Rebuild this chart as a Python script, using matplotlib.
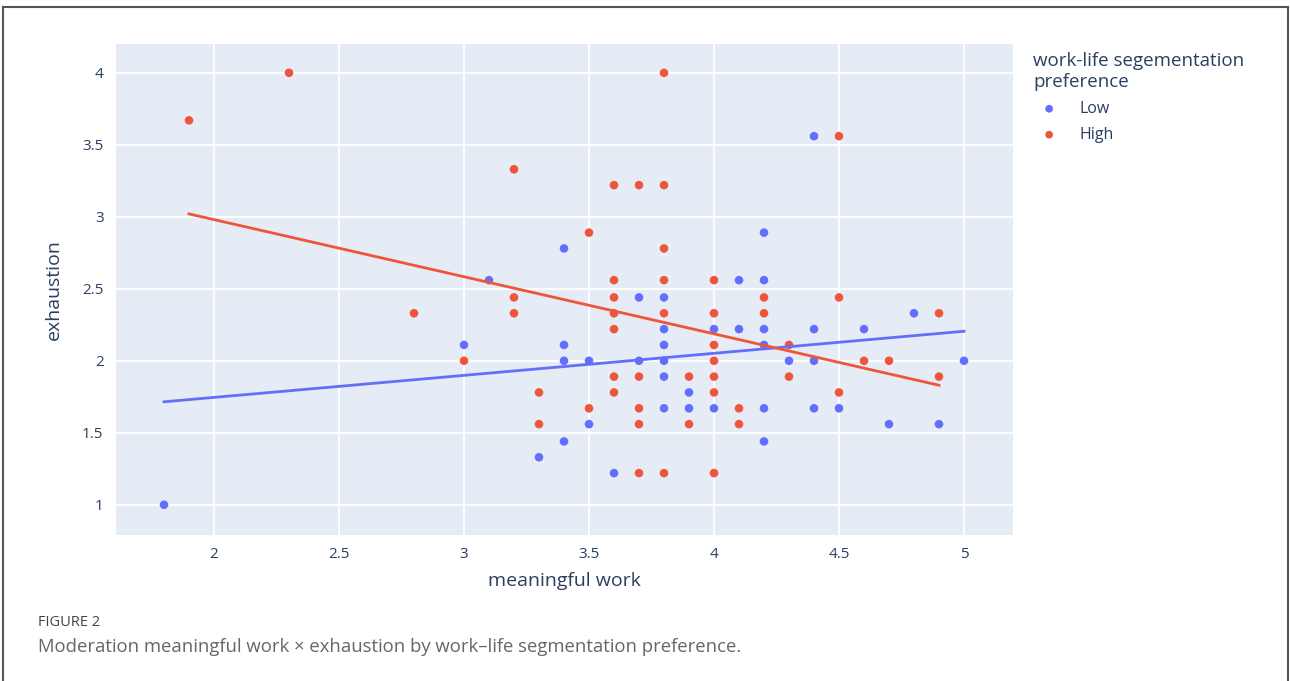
import matplotlib
matplotlib.use("Agg")
import matplotlib.pyplot as plt
from matplotlib.lines import Line2D

# Low segmentation preference (blue)
low_x = [1.8, 3.0, 3.1, 3.3, 3.4, 3.4, 3.4, 3.4, 3.5, 3.5, 3.6,
         3.7, 3.7, 3.8, 3.8, 3.8, 3.8, 3.8, 3.8, 3.9, 3.9,
         4.0, 4.0, 4.1, 4.1, 4.2, 4.2, 4.2, 4.2, 4.2, 4.2,
         4.3, 4.4, 4.4, 4.4, 4.4, 4.5, 4.6, 4.7, 4.8, 4.9, 5.0]
low_y = [1.0, 2.11, 2.56, 1.33, 2.78, 2.11, 2.0, 1.44, 2.0, 1.56, 1.22,
         2.44, 2.0, 2.44, 2.22, 2.11, 2.0, 1.89, 1.67, 1.78, 1.67,
         2.22, 1.67, 2.56, 2.22, 2.89, 2.56, 2.22, 2.11, 1.67, 1.44,
         2.0, 3.56, 2.22, 2.0, 1.67, 1.67, 2.22, 1.56, 2.33, 1.56, 2.0]

# High segmentation preference (red)
high_x = [1.9, 2.3, 2.8, 3.0, 3.2, 3.2, 3.2, 3.3, 3.3, 3.5, 3.5,
          3.6, 3.6, 3.6, 3.6, 3.6, 3.6, 3.6,
          3.7, 3.7, 3.7, 3.7, 3.7,
          3.8, 3.8, 3.8, 3.8, 3.8, 3.8,
          3.9, 3.9,
          4.0, 4.0, 4.0, 4.0, 4.0, 4.0, 4.0,
          4.1, 4.1, 4.2, 4.2, 4.3, 4.3, 4.5, 4.5, 4.5, 4.6, 4.7, 4.9, 4.9]
high_y = [3.67, 4.0, 2.33, 2.0, 3.33, 2.44, 2.33, 1.78, 1.56, 2.89, 1.67,
          3.22, 2.56, 2.44, 2.33, 2.22, 1.89, 1.78,
          3.22, 1.89, 1.67, 1.56, 1.22,
          4.0, 3.22, 2.78, 2.56, 2.33, 1.22,
          1.89, 1.56,
          2.56, 2.33, 2.11, 2.0, 1.89, 1.78, 1.22,
          1.67, 1.56, 2.44, 2.33, 2.11, 1.89, 3.56, 2.44, 1.78, 2.0, 2.0, 2.33, 1.89]

# fitted trend lines (endpoints)
low_fit_x = [1.8, 5.0]
low_fit_y = [1.715, 2.205]
high_fit_x = [1.9, 4.9]
high_fit_y = [3.02, 1.83]

x_ticks = [2, 2.5, 3, 3.5, 4, 4.5, 5]
y_ticks = [1, 1.5, 2, 2.5, 3, 3.5, 4]

BLUE = "#636EFA"
RED = "#EF553B"
INK = "#2a3f5f"
FONT = ["Open Sans", "DejaVu Sans"]

plt.rcParams["font.family"] = FONT

fig = plt.figure(figsize=(12.9, 6.81), dpi=100)
W, H = 1290, 681
ax = fig.add_axes([116 / W, (H - 535) / H, (1013 - 116) / W, (535 - 44) / H])
ax.set_facecolor("#E5ECF6")
for s in ax.spines.values():
    s.set_visible(False)

ax.set_xlim(1.608, 5.196)
ax.set_ylim(0.79, 4.2)
ax.set_xticks(x_ticks)
ax.set_yticks(y_ticks)
ax.set_xticklabels([f"{v:g}" for v in x_ticks])
ax.set_yticklabels([f"{v:g}" for v in y_ticks])
ax.grid(True, color="white", linewidth=1.3)
ax.set_axisbelow(True)
ax.tick_params(length=0, labelsize=11, labelcolor=INK, pad=9)

ax.scatter(low_x, low_y, s=38, color=BLUE, edgecolors="none", zorder=3, label="Low")
ax.scatter(high_x, high_y, s=38, color=RED, edgecolors="none", zorder=3, label="High")
ax.plot(low_fit_x, low_fit_y, color=BLUE, linewidth=2, zorder=4)
ax.plot(high_fit_x, high_fit_y, color=RED, linewidth=2, zorder=4)

ax.set_xlabel("meaningful work", fontsize=14, color=INK, labelpad=7)
ax.set_ylabel("exhaustion", fontsize=14, color=INK, labelpad=14)

leg = ax.legend(title="work-life segementation\npreference", loc="upper left",
                bbox_to_anchor=(1.01, 1.006), frameon=False, fontsize=11.5,
                title_fontsize=13.5, handletextpad=0.9, markerscale=0.9,
                labelspacing=0.62, borderaxespad=0.3)
leg.get_title().set_color(INK)
leg._legend_box.align = "left"
for t in leg.get_texts():
    t.set_color(INK)

# caption
fig.text(38 / W, 1 - 623 / H, "FIGURE 2", fontsize=10.5, color="#444444", va="center")
fig.text(38 / W, 1 - 647 / H,
         "Moderation meaningful work \u00d7 exhaustion by work\u2013life segmentation preference.",
         fontsize=13.3, color="#666666", va="center")

# panel border (open at the bottom)
bc = "#555555"
fig.add_artist(Line2D([2.5 / W, 1287.5 / W], [1 - 7 / H, 1 - 7 / H], color=bc, linewidth=1.5))
fig.add_artist(Line2D([2.5 / W, 2.5 / W], [0, 1 - 7 / H], color=bc, linewidth=1.5))
fig.add_artist(Line2D([1287.5 / W, 1287.5 / W], [0, 1 - 7 / H], color=bc, linewidth=1.5))

fig.savefig("out.png", dpi=100, facecolor="white")
